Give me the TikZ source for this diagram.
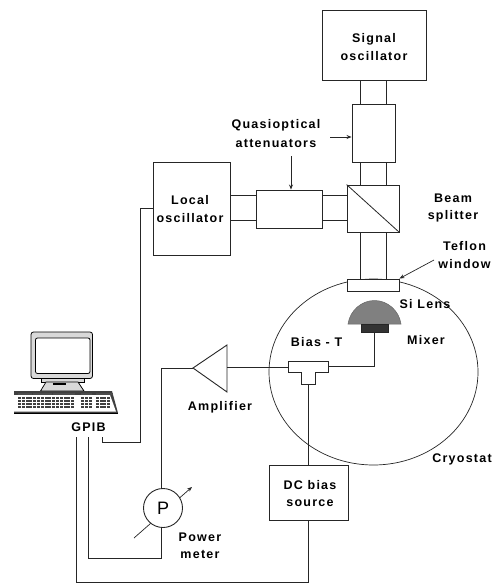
\documentclass[tikz,border=0pt]{standalone}
\usepackage{fontspec}
\setmainfont{Liberation Sans}[LetterSpace=10]
\usetikzlibrary{arrows.meta,shapes.geometric}
\tikzset{
 x=1pt,y=-1pt,
 wire/.style={draw=black!85,line width=0.9pt},
 boxy/.style={draw=black!85,line width=0.9pt,fill=white,rectangle,inner sep=0pt},
 lab/.style={font=\fontsize{12.5}{17.5}\selectfont\bfseries,align=center,inner sep=0pt},
 tip/.style={-{Stealth[length=5pt,width=4pt]}},
}
\begin{document}
\begin{tikzpicture}
\useasboundingbox (0,0) rectangle (496,583);
% cryostat
\node[draw=black!85,line width=0.7pt,ellipse,minimum width=209pt,minimum height=186pt,inner sep=0pt] (cry) at (373.5,372) {};
% boxes
\node[boxy,minimum width=104pt,minimum height=70pt] (sig) at (374,45) {};
\node[boxy,minimum width=43pt,minimum height=58pt] (att1) at (373.5,133) {};
\node[boxy,minimum width=52pt,minimum height=47pt] (bs) at (373,208.5) {};
\node[boxy,minimum width=66pt,minimum height=38pt] (att2) at (289,209) {};
\node[boxy,minimum width=77pt,minimum height=93pt] (lo) at (191.5,208.5) {};
\node[boxy,minimum width=52pt,minimum height=12pt] (win) at (373,285) {};
\node[boxy,minimum width=79pt,minimum height=54.5pt] (dc) at (308.5,493) {};
% beam pipes
\foreach \xx in {360.5,386.5}{
 \draw[wire] (\xx,0 |- sig.south) -- (\xx,0 |- att1.north);
 \draw[wire] (\xx,0 |- att1.south) -- (\xx,0 |- bs.north);
 \draw[wire] (\xx,0 |- bs.south) -- (\xx,0 |- win.north);
}
\foreach \yy in {195,220}{
 \draw[wire] (lo.east |- 0,\yy) -- (att2.west |- 0,\yy);
 \draw[wire] (att2.east |- 0,\yy) -- (bs.west |- 0,\yy);
}
\draw[wire,line width=0.8pt] (bs.north west) -- (bs.south east);
% arrows
\coordinate (qa) at (330,137);
\coordinate (qb) at (291,156);
\coordinate (ta) at (434,260);
\draw[wire,tip] (qa) -- (att1.west |- qa);
\draw[wire,tip] (qb) -- (qb |- att2.north);
\draw[wire,tip,line width=0.7pt] (ta) -- (win.north east);
% lens and mixer
\fill[black!50,draw=black!60,line width=0.5pt] (348,324) .. controls (350,310) and (362,300.5) .. (374.5,300.5) .. controls (387,300.5) and (399,310) .. (401,324) -- cycle;
\node[boxy,fill=black!80,minimum width=27pt,minimum height=8pt] (mix) at (374.5,328) {};
% T
\draw[boxy] (288.7,361) -- (328.7,361) -- (328.7,372) -- (315,372) -- (315,384) -- (301.7,384) -- (301.7,372) -- (288.7,372) -- cycle;
\coordinate (tr) at (328.7,366.7);
\coordinate (tl) at (288.7,367);
\coordinate (tb) at (308.3,384);
\draw[wire] (mix.south) |- (tr);
% amp
\draw[boxy] (193,368) -- (227,345) -- (227,392) -- cycle;
\coordinate (ampb) at (227,367);
\coordinate (ampt) at (193,368);
\draw[wire] (ampb) -- (tl);
\draw[wire] (tb) -- (dc.north -| tb);
% Power meter
\coordinate (pa) at (134,538);
\coordinate (pb) at (192,487);
\draw[wire,tip,line width=0.7pt] (pa) -- (pb);
\node[boxy,circle,minimum size=39pt] (pm) at (163,508) {\fontsize{18}{18}\selectfont\addfontfeature{LetterSpace=0}P};
\draw[wire] (ampt) -- (161.5,368) -- (161.5,0 |- pm.north);
% GPIB wires
\coordinate (g1) at (102,437);
\coordinate (g2) at (88,437);
\coordinate (g3) at (76,437);
\draw[wire] (g1) -- (102,442.5) -- (140,442.5) -- (140,208) -- (lo.west |- 0,208);
\draw[wire] (g2) -- (88,558) -- (161.5,558) -- (161.5,0 |- pm.south);
\draw[wire] (g3) -- (76,582) -- (308.3,582) -- (dc.south -| 308.3,0);
% computer
\fill[black!15,draw=black,line width=0.8pt,rounded corners=2.5pt] (31,332) rectangle (92.5,378.5);
\fill[white,draw=black,line width=0.8pt,rounded corners=2pt] (35.5,338) rectangle (90,373.5);
\fill[black!15,draw=black,line width=0.7pt] (41.5,378.5) rectangle (84,382);
\fill[black!15,draw=black,line width=0.7pt] (46,382) -- (78,382) -- (84,391) -- (40.5,391) -- cycle;
\fill[black] (53,383) rectangle (66,384.6);
\fill[black!75] (14,391) -- (112,391) -- (118,413) -- (14,413) -- cycle;
\fill[white] (14,395) -- (110,395) -- (116,411.5) -- (14,411.5) -- cycle;
\foreach \cl/\wd in {18/14,33/19,53/22,81/11,96/17}{\fill[black!70] (\cl,393) rectangle +(\wd,1.5);}
\foreach \rw in {0,1,2,3}{
 \foreach \cl in {0,...,14}{\fill[black!75] (18+\cl*3.8,397+\rw*3) rectangle +(3,2.2);}
 \foreach \cl in {0,1,2}{\fill[black!75] (81+\cl*3.8,397+\rw*3) rectangle +(3,2.2);}
 \foreach \cl in {0,...,3}{\fill[black!75] (96+\cl*3.6,397+\rw*3) rectangle +(3,2.2);}
}
\draw[black,line width=0.7pt] (14,413.5) -- (118,413.5);
% labels
\node[lab] (t1) at (374,47) {Signal\\oscillator};
\node[lab] (t2) at (276,134) {Quasioptical\\[1.5pt]attenuators};
\node[lab] (t3) at (190,209) {Local\\oscillator};
\node[lab] (t4) at (453,208) {Beam\\splitter};
\node[lab] (t5) at (464.5,255) {Teflon\\window};
\node[lab] (t6) at (425,304) {Si Lens};
\node[lab] (t7) at (426,340) {Mixer};
\node[lab] (t8) at (316.5,342) {Bias - T};
\node[lab] (t9) at (220,407) {Amplifier};
\node[lab] (t10) at (462,459) {Cryostat};
\node[lab] (t11) at (310,493.5) {DC bias\\source};
\node[lab] (t12) at (200,546) {Power\\meter};
\node[lab] (t13) at (88.5,427) {GPIB};
\end{tikzpicture}
\end{document}
